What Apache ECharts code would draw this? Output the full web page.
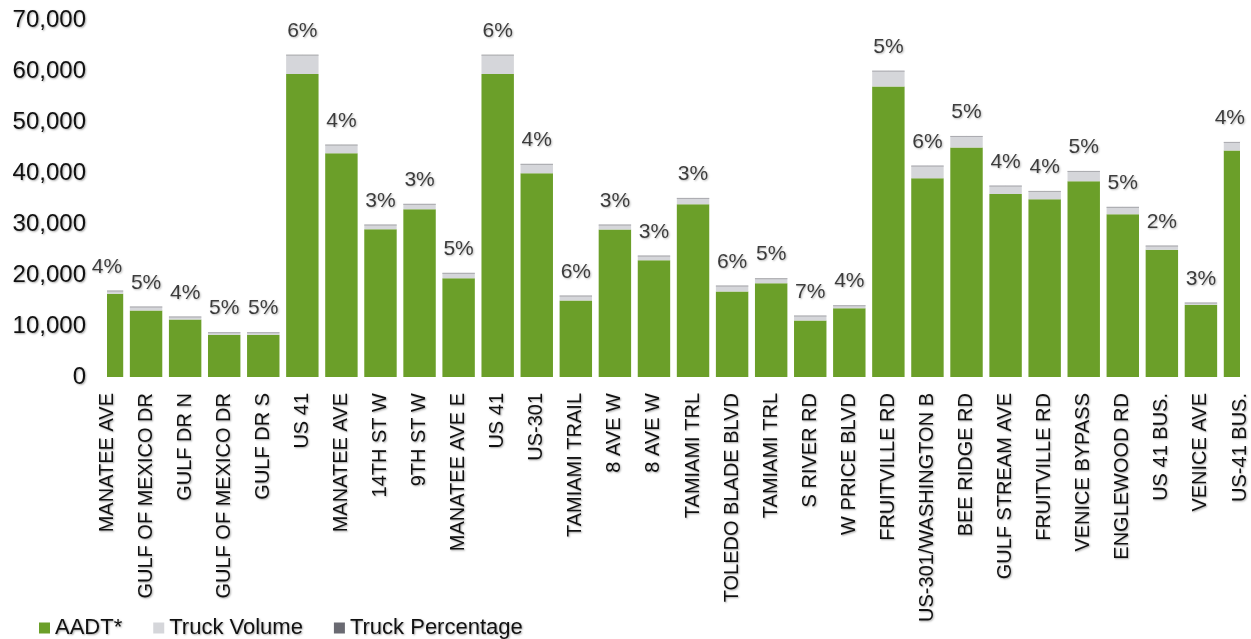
<!DOCTYPE html>
<html>
<head>
<meta charset="utf-8">
<script src="https://cdn.jsdelivr.net/npm/echarts@6/dist/echarts.min.js"></script>
<style>
html,body{margin:0;padding:0;background:#fff;}
#chart{width:1251px;height:639px;}
</style>
</head>
<body>
<div id="chart"></div>
<script>
const categories = ["MANATEE AVE","GULF OF MEXICO DR","GULF DR N","GULF OF MEXICO DR","GULF DR S","US 41","MANATEE AVE","14TH ST W","9TH ST W","MANATEE AVE E","US 41","US-301","TAMIAMI TRAIL","8 AVE W","8 AVE W","TAMIAMI TRL","TOLEDO BLADE BLVD","TAMIAMI TRL","S RIVER RD","W PRICE BLVD","FRUITVILLE RD","US-301/WASHINGTON B","BEE RIDGE RD","GULF STREAM AVE","FRUITVILLE RD","VENICE BYPASS","ENGLEWOOD RD","US 41 BUS.","VENICE AVE","US-41 BUS."];
const aadt = [16300,13030,11270,8270,8270,59430,43870,28970,32890,19370,59430,39950,14990,28910,22890,33870,16760,18390,11070,13490,56940,38970,44980,35900,34850,38380,31910,24930,14150,44390];
const truckVolume = [650,790,590,510,510,3780,1700,920,1060,1050,3780,1840,980,980,920,1250,1170,980,980,580,3130,2480,2290,1630,1640,2030,1450,840,450,1710];
const truckPct = ["4%","5%","4%","5%","5%","6%","4%","3%","3%","5%","6%","4%","6%","3%","3%","3%","6%","5%","7%","4%","5%","6%","5%","4%","4%","5%","5%","2%","3%","4%"];
const yTicks = [0,10000,20000,30000,40000,50000,60000,70000];

const FONT = "'Liberation Sans', Arial, sans-serif";
const GREEN = '#6b9f29', GRAY = '#d5d6da', DARK = '#45454f';
const shadow = {textShadowColor:'rgba(0,0,0,0.35)', textShadowBlur:2, textShadowOffsetX:1, textShadowOffsetY:1};
const totals = aadt.map((v,i)=>v+truckVolume[i]);
const aadtData = aadt.map((v,i)=>[i,0,v]);
const truckData = truckVolume.map((v,i)=>[i,aadt[i],aadt[i]+v]);

function barRenderer(fill, topLine){
  return function(params, api){
    const i = api.value(0);
    const p0 = api.coord([i, api.value(1)]);
    const p1 = api.coord([i, api.value(2)]);
    const w = api.size([1,0])[0]*0.83;
    const x = p0[0]-w/2;
    const children = [{type:'rect', shape:{x:x, y:p1[1], width:w, height:p0[1]-p1[1]}, style:{fill:fill}}];
    if (topLine) children.push({type:'line', shape:{x1:x, y1:p1[1]+0.5, x2:x+w, y2:p1[1]+0.5}, style:{stroke:topLine, lineWidth:1}});
    return {type:'group', children:children};
  };
}

const chart = echarts.init(document.getElementById('chart'));
const W = chart.getWidth();
chart.setOption({
  animation:false,
  backgroundColor:'#fff',
  grid:{left:107,right:11,top:20,bottom:262,containLabel:false},
  legend:{
    left:34, top:612, itemWidth:11, itemHeight:11, itemGap:31,
    textStyle:Object.assign({fontFamily:FONT,fontSize:22,color:'#111'},shadow),
    data:[
      {name:'AADT*',icon:'rect',itemStyle:{color:GREEN}},
      {name:'Truck Volume',icon:'rect',itemStyle:{color:GRAY}},
      {name:'Truck Percentage',icon:'rect',itemStyle:{color:DARK}}
    ]
  },
  xAxis:{
    type:'category', data:categories, boundaryGap:false,
    axisLine:{show:false}, axisTick:{show:false}, splitLine:{show:false},
    axisLabel:Object.assign({rotate:90,interval:0,margin:16,fontFamily:FONT,fontSize:20,color:'#111'},shadow)
  },
  yAxis:{
    type:'value', min:yTicks[0], max:yTicks[yTicks.length-1], interval:10000,
    axisLine:{show:false}, axisTick:{show:false}, splitLine:{show:false},
    axisLabel:Object.assign({margin:21,fontFamily:FONT,fontSize:24,color:'#111',
      formatter:v=>v.toLocaleString('en-US')},shadow)
  },
  series:[
    {name:'AADT*',type:'custom',data:aadtData,encode:{x:0,y:[1,2]},clip:true,
      itemStyle:{color:GREEN},renderItem:barRenderer(GREEN,null)},
    {name:'Truck Volume',type:'custom',data:truckData,encode:{x:0,y:[1,2]},clip:true,
      itemStyle:{color:GRAY},renderItem:barRenderer(GRAY,'#a9a9ad')},
    {name:'Truck Percentage',type:'scatter',data:totals,symbolSize:0.1,clip:false,
      itemStyle:{color:DARK},
      labelLayout:function(params){
        const r = params.labelRect;
        const over = r.x + r.width - (W - 6);
        return over > 0 ? {dx:-over} : {};
      },
      label:Object.assign({show:true,position:'top',distance:13,fontFamily:FONT,fontSize:21,color:'#111',
        formatter:p=>truckPct[p.dataIndex]},shadow)}
  ]
});
</script>
</body>
</html>
